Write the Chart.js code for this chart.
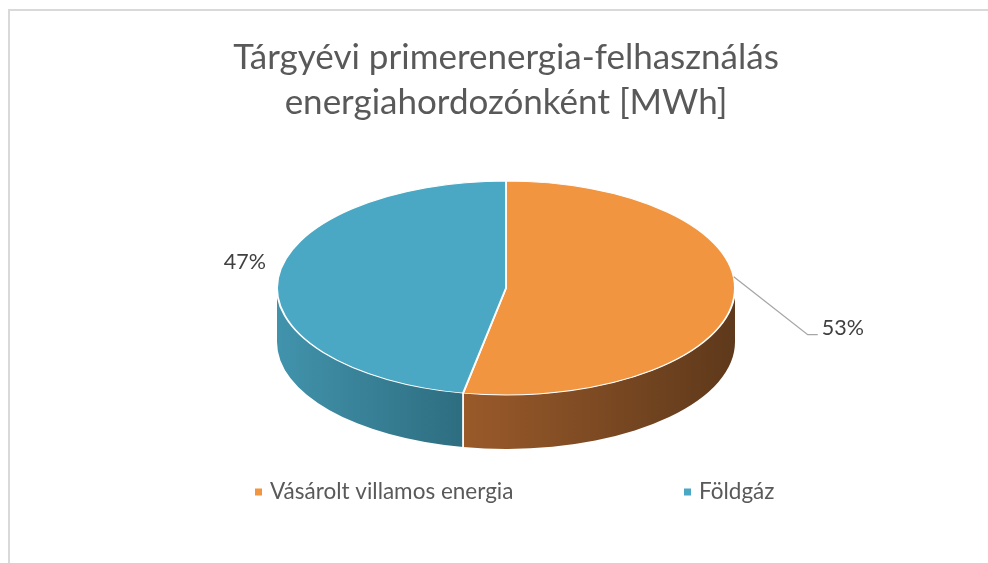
<!DOCTYPE html>
<html>
<head>
<meta charset="utf-8">
<script src="https://cdn.jsdelivr.net/npm/chart.js@4/dist/chart.umd.min.js"></script>
<style>
html,body{margin:0;padding:0;background:#fff;}
#wrap{width:988px;height:563px;position:relative;}
canvas{display:block;}
</style>
</head>
<body>
<div id="wrap"><canvas id="c" width="988" height="563"></canvas></div>
<script>
// ---- data ----
const categories = ['Vásárolt villamos energia', 'Földgáz'];
const shares = [53, 47];
const titleLines = ['Tárgyévi primerenergia-felhasználás', 'energiahordozónként [MWh]'];
const topColors = ['#F19541', '#4AA8C4'];
const sideLight = ['#9A5A2A', '#4193AC'];
const sideDark = ['#5E391B', '#2E6D80'];

// ---- style / layout constants ----
const FONT = 'Lato';
const TILT = 107 / 229;
const DEPTH = 54;

function ellPt(cx, cy, rx, ry, a) {
  return { x: cx + rx * Math.cos(a), y: cy + ry * Math.sin(a) };
}

const pie3d = {
  id: 'pie3d',
  beforeDraw(chart) {
    const ctx = chart.ctx;
    ctx.save();
    ctx.fillStyle = '#fff';
    ctx.fillRect(0, 0, chart.width, chart.height);
    ctx.fillStyle = '#d9d9d9';
    ctx.fillRect(8, 9, chart.width - 8, 2);
    ctx.fillRect(8, 9, 2, chart.height - 9);
    ctx.restore();
  },
  beforeDatasetsDraw(chart) {
    const ctx = chart.ctx;
    const arcs = chart.getDatasetMeta(0).data;
    const cx = arcs[0].x, cy = arcs[0].y, rx = arcs[0].outerRadius, ry = rx * TILT;
    ctx.save();
    arcs.forEach((arc, i) => {
      const s = arc.startAngle, e = arc.endAngle;
      for (let k = -1; k <= 1; k++) {
        const lo = Math.max(s, k * 2 * Math.PI), hi = Math.min(e, k * 2 * Math.PI + Math.PI);
        if (hi <= lo) continue;
        const p1 = ellPt(cx, cy, rx, ry, lo), p2 = ellPt(cx, cy, rx, ry, hi);
        ctx.beginPath();
        ctx.ellipse(cx, cy, rx, ry, 0, lo, hi, false);
        ctx.lineTo(p2.x, p2.y + DEPTH);
        ctx.ellipse(cx, cy + DEPTH, rx, ry, 0, hi, lo, true);
        ctx.closePath();
        const xl = Math.min(p1.x, p2.x), xr = Math.max(p1.x, p2.x);
        const g = ctx.createLinearGradient(xl, 0, xr, 0);
        g.addColorStop(0, sideLight[i]);
        g.addColorStop(1, sideDark[i]);
        ctx.fillStyle = g;
        ctx.fill();
      }
    });
    // white seams on the visible side
    ctx.strokeStyle = 'rgba(255,255,255,0.9)';
    ctx.lineWidth = 1.5;
    arcs.forEach(arc => {
      [arc.startAngle, arc.endAngle].forEach(a => {
        const n = ((a % (2 * Math.PI)) + 2 * Math.PI) % (2 * Math.PI);
        if (n > 0.01 && n < Math.PI - 0.01) {
          const p = ellPt(cx, cy, rx, ry, n);
          ctx.beginPath();
          ctx.moveTo(p.x, p.y);
          ctx.lineTo(p.x, p.y + DEPTH);
          ctx.stroke();
        }
      });
    });
    ctx.restore();
    // project the top face
    ctx.save();
    ctx.translate(cx, cy);
    ctx.scale(1, TILT);
    ctx.translate(-cx, -cy);
  },
  afterDatasetsDraw(chart) {
    const ctx = chart.ctx;
    ctx.restore();
    const meta = chart.getDatasetMeta(0);
    const arcs = meta.data;
    const vals = chart.data.datasets[0].data;
    const total = vals.reduce((a, b) => a + b, 0);
    const cx = arcs[0].x, cy = arcs[0].y, rx = arcs[0].outerRadius, ry = rx * TILT;
    ctx.save();
    ctx.font = '21.5px ' + FONT;
    ctx.fillStyle = '#404040';
    ctx.textBaseline = 'middle';
    arcs.forEach((arc, i) => {
      const mid = (arc.startAngle + arc.endAngle) / 2;
      const txt = Math.round(vals[i] / total * 100) + '%';
      const onRight = Math.cos(mid) > 0;
      if (onRight) {
        const p = ellPt(cx, cy, rx, ry, mid - 0.2);
        const elbow = { x: p.x + 74, y: p.y + 58 };
        ctx.strokeStyle = '#a6a6a6';
        ctx.lineWidth = 1.3;
        ctx.beginPath();
        ctx.moveTo(p.x, p.y);
        ctx.lineTo(elbow.x, elbow.y);
        ctx.lineTo(elbow.x + 10, elbow.y);
        ctx.stroke();
        ctx.textAlign = 'left';
        ctx.fillText(txt, elbow.x + 14, elbow.y - 7);
      } else {
        const p = ellPt(cx, cy, rx, ry, mid);
        ctx.textAlign = 'right';
        ctx.fillText(txt, p.x - 12, p.y - 16);
      }
    });
    ctx.restore();
  },
  afterDraw(chart) {
    const ctx = chart.ctx;
    const ds = chart.data.datasets[0];
    ctx.save();
    ctx.font = '22.5px ' + FONT;
    ctx.textBaseline = 'middle';
    ctx.textAlign = 'left';
    const y = 492, x0 = 255, step = 429, box = 7;
    chart.data.labels.forEach((lab, i) => {
      const x = x0 + i * step;
      ctx.fillStyle = ds.backgroundColor[i];
      ctx.fillRect(x, y - box / 2, box, box);
      ctx.fillStyle = '#595959';
      ctx.fillText(lab, x + 15, y);
    });
    ctx.restore();
  }
};

document.fonts.load('35px ' + FONT).then(() => {
  new Chart(document.getElementById('c'), {
    type: 'pie',
    data: {
      labels: categories,
      datasets: [{
        data: shares,
        backgroundColor: topColors,
        borderColor: '#ffffff',
        borderWidth: 2,
        radius: 229,
        clip: false
      }]
    },
    options: {
      responsive: false,
      animation: false,
      events: [],
      layout: { padding: { left: 24, right: 0, top: 0, bottom: 112 } },
      plugins: {
        legend: { display: false },
        tooltip: { enabled: false },
        title: {
          display: true,
          text: titleLines,
          color: '#595959',
          font: { family: FONT, size: 35, weight: 'normal', lineHeight: 1.286 },
          padding: { top: 35, bottom: 0 }
        }
      }
    },
    plugins: [pie3d]
  });
});
</script>
</body>
</html>
